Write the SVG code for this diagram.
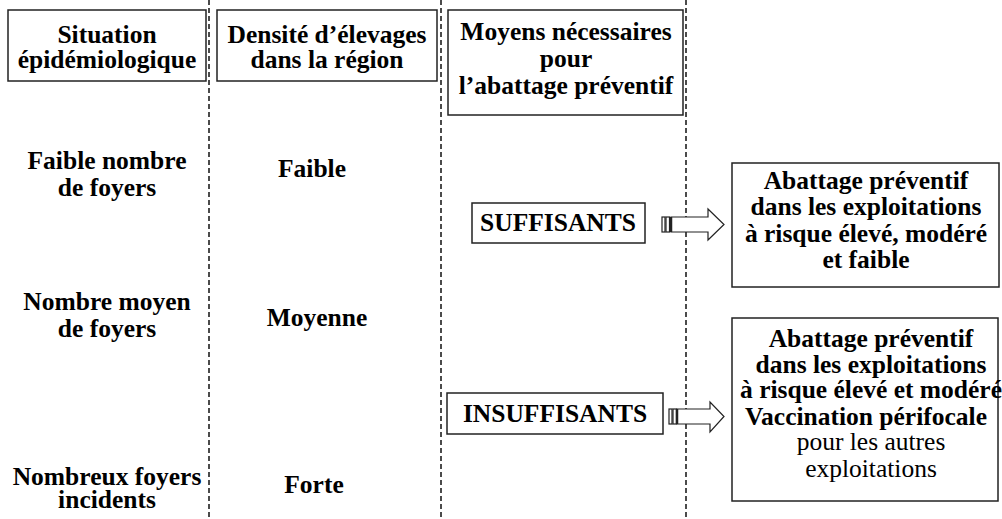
<svg xmlns="http://www.w3.org/2000/svg" width="1002" height="519" viewBox="0 0 1002 519">
<style>
.box{fill:#fff;stroke:#222;stroke-width:1.5}
.dash{stroke:#111;stroke-width:1.5;stroke-dasharray:5 3;fill:none}
.arr{fill:#fff;stroke:#222;stroke-width:1.2}
</style>
<rect width="1002" height="519" fill="#fff"/>
<g id="connectors">
<line class="dash" x1="209" y1="0" x2="209" y2="519"/>
<line class="dash" x1="441" y1="0" x2="441" y2="519"/>
<line class="dash" x1="686" y1="0" x2="686" y2="519"/>
<g id="arrow1">
<rect class="arr" x="662" y="217" width="3" height="15"/>
<rect class="arr" x="666" y="217" width="3.5" height="15"/>
<polygon class="arr" points="671,217 708,217 708,209 724,224.5 708,240 708,232 671,232"/>
<line x1="671" y1="217" x2="671" y2="232" stroke="#222" stroke-width="2.5"/>
</g>
<g id="arrow2">
<rect class="arr" x="669" y="409" width="3" height="15"/>
<rect class="arr" x="673" y="409" width="3.5" height="15"/>
<polygon class="arr" points="677,409 710,409 710,402 724,416.5 710,432 710,424 677,424"/>
<line x1="677" y1="409" x2="677" y2="424" stroke="#222" stroke-width="2.5"/>
</g>
</g>
<g id="header1">
<rect class="box" x="8" y="10" width="198" height="71"/>
<text x="107" y="43" font-family="Liberation Serif" font-size="25.5" font-weight="bold" text-anchor="middle">Situation</text>
<text x="107" y="68" font-family="Liberation Serif" font-size="25.5" font-weight="bold" text-anchor="middle">épidémiologique</text>
</g>
<g id="header2">
<rect class="box" x="217" y="10" width="220" height="71"/>
<text x="327" y="43" font-family="Liberation Serif" font-size="25.5" font-weight="bold" text-anchor="middle">Densité d’élevages</text>
<text x="327" y="68" font-family="Liberation Serif" font-size="25.5" font-weight="bold" text-anchor="middle">dans la région</text>
</g>
<g id="header3">
<rect class="box" x="448" y="10" width="235" height="105"/>
<text x="566" y="40" font-family="Liberation Serif" font-size="25.5" font-weight="bold" text-anchor="middle">Moyens nécessaires</text>
<text x="566" y="67" font-family="Liberation Serif" font-size="25.5" font-weight="bold" text-anchor="middle">pour</text>
<text x="566" y="94" font-family="Liberation Serif" font-size="25.5" font-weight="bold" text-anchor="middle">l’abattage préventif</text>
</g>
<g id="sit1">
<text x="107" y="169" font-family="Liberation Serif" font-size="25.5" font-weight="bold" text-anchor="middle">Faible nombre</text>
<text x="107" y="196" font-family="Liberation Serif" font-size="25.5" font-weight="bold" text-anchor="middle">de foyers</text>
</g>
<g id="sit2">
<text x="107" y="310" font-family="Liberation Serif" font-size="25.5" font-weight="bold" text-anchor="middle">Nombre moyen</text>
<text x="107" y="337" font-family="Liberation Serif" font-size="25.5" font-weight="bold" text-anchor="middle">de foyers</text>
</g>
<g id="sit3">
<text x="107" y="485" font-family="Liberation Serif" font-size="25.5" font-weight="bold" text-anchor="middle">Nombreux foyers</text>
<text x="107" y="508" font-family="Liberation Serif" font-size="25.5" font-weight="bold" text-anchor="middle">incidents</text>
</g>
<g id="dens1"><text x="312" y="177" font-family="Liberation Serif" font-size="25.5" font-weight="bold" text-anchor="middle">Faible</text></g>
<g id="dens2"><text x="317" y="326" font-family="Liberation Serif" font-size="25.5" font-weight="bold" text-anchor="middle">Moyenne</text></g>
<g id="dens3"><text x="314" y="493" font-family="Liberation Serif" font-size="25.5" font-weight="bold" text-anchor="middle">Forte</text></g>
<g id="suffisants">
<rect class="box" x="472" y="203" width="173" height="40"/>
<text x="558" y="231" font-family="Liberation Serif" font-size="25.5" font-weight="bold" text-anchor="middle">SUFFISANTS</text>
</g>
<g id="insuffisants">
<rect class="box" x="447" y="393" width="216" height="41"/>
<text x="555" y="422" font-family="Liberation Serif" font-size="25.5" font-weight="bold" text-anchor="middle">INSUFFISANTS</text>
</g>
<g id="result1">
<rect class="box" x="732" y="163" width="267" height="124"/>
<text x="866" y="189" font-family="Liberation Serif" font-size="25.5" font-weight="bold" text-anchor="middle">Abattage préventif</text>
<text x="866" y="215" font-family="Liberation Serif" font-size="25.5" font-weight="bold" text-anchor="middle">dans les exploitations</text>
<text x="866" y="242" font-family="Liberation Serif" font-size="25.5" font-weight="bold" text-anchor="middle">à risque élevé, modéré</text>
<text x="866" y="268" font-family="Liberation Serif" font-size="25.5" font-weight="bold" text-anchor="middle">et faible</text>
</g>
<g id="result2">
<rect class="box" x="732" y="318" width="266" height="183"/>
<text x="871" y="347" font-family="Liberation Serif" font-size="25.5" font-weight="bold" text-anchor="middle">Abattage préventif</text>
<text x="871" y="373" font-family="Liberation Serif" font-size="25.5" font-weight="bold" text-anchor="middle">dans les exploitations</text>
<text x="871" y="398" font-family="Liberation Serif" font-size="25.5" font-weight="bold" text-anchor="middle">à risque élevé et modéré</text>
<text x="866" y="425" font-family="Liberation Serif" font-size="25.5" font-weight="bold" text-anchor="middle">Vaccination périfocale</text>
<text x="871" y="450" font-family="Liberation Serif" font-size="25.5" text-anchor="middle">pour les autres</text>
<text x="871" y="477" font-family="Liberation Serif" font-size="25.5" text-anchor="middle">exploitations</text>
</g>
</svg>
